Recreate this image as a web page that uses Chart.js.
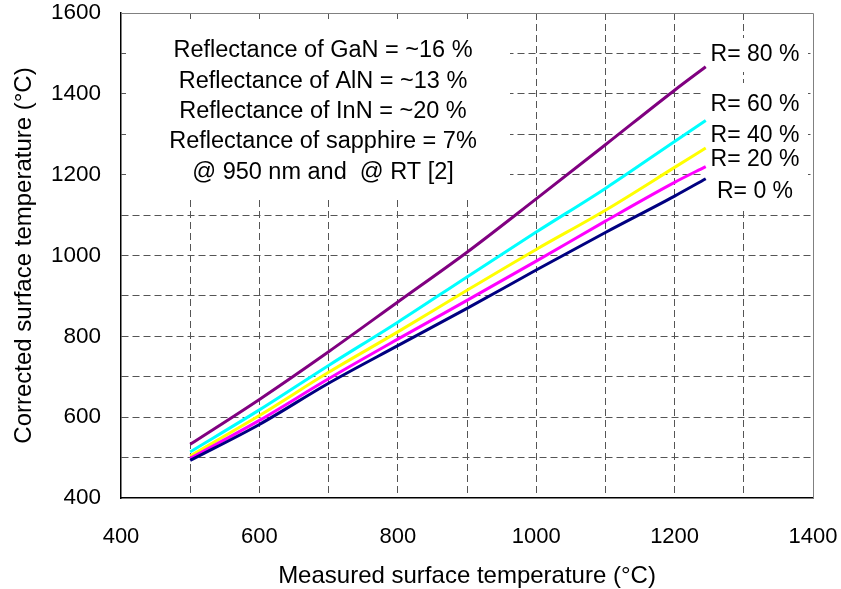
<!DOCTYPE html>
<html>
<head>
<meta charset="utf-8">
<script src="https://cdn.jsdelivr.net/npm/chart.js@4.4.1/dist/chart.umd.min.js"></script>
<style>
  html, body { margin: 0; padding: 0; background: #fff; }
  #wrap { width: 841px; height: 589px; position: relative; }
</style>
</head>
<body>
<div id="wrap"><canvas id="chart"></canvas></div>
<script>
// measured temperature (x) and corrected temperature for each reflectance
const measured = [500, 600, 700, 800, 900, 1000, 1100, 1200, 1245];
const r0 = [493, 582, 684, 777, 869, 964, 1057, 1147, 1190];
const r20 = [498, 592, 695, 793, 889, 986, 1085, 1181, 1220];
const r40 = [504, 604, 711, 811, 914, 1015, 1112, 1218, 1266];
const r60 = [514, 618, 728, 835, 947, 1058, 1166, 1282, 1334];
const r80 = [533, 644, 762, 885, 1008, 1140, 1274, 1409, 1467];

const seriesNames = ["R= 0 %", "R= 20 %", "R= 40 %", "R= 60 %", "R= 80 %"];
const seriesColors = ["#000080", "#ff00ff", "#ffff00", "#00ffff", "#800080"];

const noteLines = [
	"Reflectance of GaN = ~16 %",
	"Reflectance of AlN = ~13 %",
	"Reflectance of InN = ~20 %",
	"Reflectance of sapphire = 7%",
	"@ 950 nm and  @ RT [2]",
];

const FONT = "'Liberation Sans', Arial, sans-serif";
Chart.defaults.font.family = FONT;
Chart.defaults.color = "#000";

function pts(ys) {
	return measured.map((x, i) => ({ x: x, y: ys[i] }));
}

const allSeries = [r0, r20, r40, r60, r80];

// label boxes on the right: [text centre y, box top, box bottom]
const labelBoxes = [
	[191.5, 175, 210],
	[160, 143, 177],
	[136, 120, 150],
	[105, 83, 122],
	[55, 38, 72],
];

const notes = {
	id: "notes",
	beforeDatasetsDraw(chart) {
		const ctx = chart.ctx;
		const a = chart.chartArea;
		ctx.save();
		// plot area frame (top / right)
		ctx.strokeStyle = "#808080";
		ctx.lineWidth = 1;
		ctx.beginPath();
		ctx.moveTo(a.left, a.top + 0.5);
		ctx.lineTo(a.right + 0.5, a.top + 0.5);
		ctx.lineTo(a.right + 0.5, a.bottom);
		ctx.stroke();

		// text box
		ctx.fillStyle = "#fff";
		ctx.fillRect(126, 19, 384, 178);
		ctx.fillStyle = "#000";
		ctx.font = "23.5px " + FONT;
		ctx.textAlign = "center";
		ctx.textBaseline = "middle";
		noteLines.forEach((t, i) => {
			ctx.fillText(t, 323, 51 + i * 30.3);
		});

		// series labels, top down so the lower boxes clip the ones above
		ctx.font = "23px " + FONT;
		const order = [4, 3, 2, 1, 0];
		order.forEach((k) => {
			const b = labelBoxes[k];
			ctx.fillStyle = "#fff";
			ctx.fillRect(703, b[1], 105, b[2] - b[1]);
			ctx.fillStyle = "#000";
			ctx.fillText(seriesNames[k], 755, b[0]);
		});
		ctx.restore();
	},
};

function gridColor(edge) {
	return (c) => {
		if (c.tick && edge.indexOf(c.tick.value) >= 0) return "rgba(0,0,0,0)";
		return "#555";
	};
}

function noPad(s) {
	s.paddingTop = 0;
	s.paddingBottom = 0;
	s.paddingLeft = 0;
	s.paddingRight = 0;
}

new Chart(document.getElementById("chart"), {
	type: "scatter",
	data: {
		datasets: allSeries.map((ys, i) => ({
			label: seriesNames[i],
			data: pts(ys),
			showLine: true,
			borderColor: seriesColors[i],
			backgroundColor: seriesColors[i],
			borderWidth: 3,
			pointRadius: 0,
			cubicInterpolationMode: "monotone",
		})),
	},
	options: {
		responsive: true,
		maintainAspectRatio: false,
		animation: false,
		layout: { padding: { top: 13, right: 28, left: 0, bottom: 0 } },
		plugins: {
			legend: { display: false },
			tooltip: { enabled: false },
		},
		scales: {
			x: {
				type: "linear",
				min: 400,
				max: 1400,
				afterFit(s) {
					s.height = 91;
					noPad(s);
				},
				ticks: {
					stepSize: 100,
					autoSkip: false,
					maxRotation: 0,
					padding: 26,
					font: { size: 22 },
					callback: (v) => (v % 200 === 0 ? v : ""),
				},
				grid: { color: gridColor([400, 1400]), lineWidth: 1, drawTicks: false },
				border: { display: true, color: "#000", width: 1.5, dash: [7, 4] },
				title: {
					display: true,
					text: "Measured surface temperature (°C)",
					font: { size: 24 },
					padding: { top: 0, bottom: -2 },
				},
			},
			y: {
				type: "linear",
				min: 400,
				max: 1600,
				afterFit(s) {
					s.width = 121;
					noPad(s);
				},
				ticks: {
					stepSize: 100,
					autoSkip: false,
					padding: 20,
					font: { size: 22.5 },
					callback: (v) => (v % 200 === 0 ? v : ""),
				},
				grid: { color: gridColor([400, 1600]), lineWidth: 1, drawTicks: false },
				border: { display: true, color: "#000", width: 1.5, dash: [7, 4] },
				title: {
					display: true,
					text: "Corrected surface temperature (°C)",
					font: { size: 24 },
					padding: { top: 10, bottom: 0 },
				},
			},
		},
	},
	plugins: [notes],
});
</script>
</body>
</html>
